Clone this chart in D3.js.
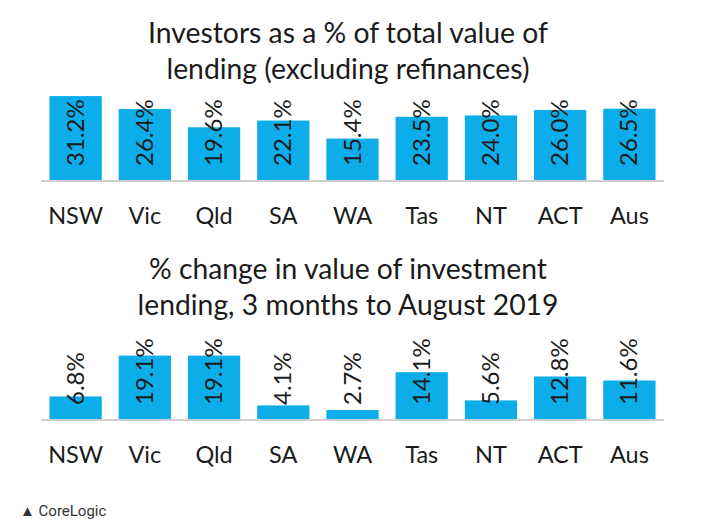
<!DOCTYPE html>
<html>
<head>
<meta charset="utf-8">
<script src="https://cdn.jsdelivr.net/npm/d3@7"></script>
<style>
  body { margin: 0; background: #fff; }
  svg { display: block; }
</style>
</head>
<body>
<svg id="chart" width="707" height="526"></svg>
<script>
var states = ['NSW', 'Vic', 'Qld', 'SA', 'WA', 'Tas', 'NT', 'ACT', 'Aus'];
var investorShare = [31.2, 26.4, 19.6, 22.1, 15.4, 23.5, 24.0, 26.0, 26.5];
var investmentChange = [6.8, 19.1, 19.1, 4.1, 2.7, 14.1, 5.6, 12.8, 11.6];
var topTitle = ['Investors as a % of total value of', 'lending (excluding refinances)'];
var bottomTitle = ['% change in value of investment', 'lending, 3 months to August 2019'];

var svg = d3.select('#chart');
var font = 'Lato, "Open Sans", sans-serif';
var textColor = '#1b1b1b';

var x = d3.scaleBand()
  .domain(states)
  .range([41, 664])
  .paddingInner(0.245)
  .paddingOuter(0.1225);

// squeeze a text to a given width by changing its font size
function fitWidth(sel, w) {
  sel.each(function () {
    var len = this.getComputedTextLength();
    var fs = parseFloat(d3.select(this).attr('font-size'));
    d3.select(this).attr('font-size', fs * w / len);
  });
}

function drawPanel(opts) {
  var g = svg.append('g');

  var y = d3.scaleLinear()
    .domain([0, 1])
    .range([opts.base, opts.base - opts.pxPerUnit]);

  var title = g.selectAll('text.title')
    .data(opts.title)
    .enter().append('text')
    .attr('class', 'title')
    .attr('x', 348)
    .attr('y', function (d, i) { return opts.titleY + i * 36; })
    .attr('text-anchor', 'middle')
    .attr('font-family', font)
    .attr('font-size', 28)
    .attr('fill', textColor)
    .text(function (d) { return d; });
  fitWidth(title.filter(function (d, i) { return i == 0; }), opts.titleW);
  title.filter(function (d, i) { return i == 1; })
    .attr('font-size', title.filter(function (d, i) { return i == 0; }).attr('font-size'));

  g.selectAll('rect')
    .data(opts.values)
    .enter().append('rect')
    .attr('x', function (d, i) { return x(states[i]); })
    .attr('width', x.bandwidth())
    .attr('y', function (d) { return y(d); })
    .attr('height', function (d) { return y(0) - y(d); })
    .attr('fill', '#0dade9');

  g.append('line')
    .attr('x1', 41).attr('x2', 664)
    .attr('y1', y(0) + 1).attr('y2', y(0) + 1)
    .attr('stroke', '#cfcfcf')
    .attr('stroke-width', 2);

  g.selectAll('text.val')
    .data(opts.values)
    .enter().append('text')
    .attr('class', 'val')
    .attr('transform', function (d, i) {
      return 'translate(' + (x(states[i]) + x.bandwidth() / 2 + 8) + ',' + (y(0) - 14) + ') rotate(-90)';
    })
    .attr('font-family', font)
    .attr('font-size', 24)
    .attr('fill', textColor)
    .text(function (d) { return d.toFixed(1) + '%'; });

  var xAxis = g.append('g')
    .attr('transform', 'translate(0,' + (y(0) + 1) + ')')
    .call(d3.axisBottom(x).tickSize(0).tickPadding(opts.labelPad));
  xAxis.select('.domain').remove();
  xAxis.selectAll('text')
    .attr('font-family', font)
    .attr('font-size', 23.5)
    .attr('fill', textColor);
}

drawPanel({
  title: topTitle, titleY: 43, titleW: 400,
  values: investorShare, base: 180, pxPerUnit: 2.69, labelPad: 26
});

drawPanel({
  title: bottomTitle, titleY: 279, titleW: 398,
  values: investmentChange, base: 419, pxPerUnit: 3.32, labelPad: 26
});

svg.append('text')
  .attr('x', 20)
  .attr('y', 516)
  .attr('font-family', 'Roboto, sans-serif')
  .attr('font-size', 15)
  .attr('fill', '#333')
  .text('\u25B2 CoreLogic');
</script>
</body>
</html>
